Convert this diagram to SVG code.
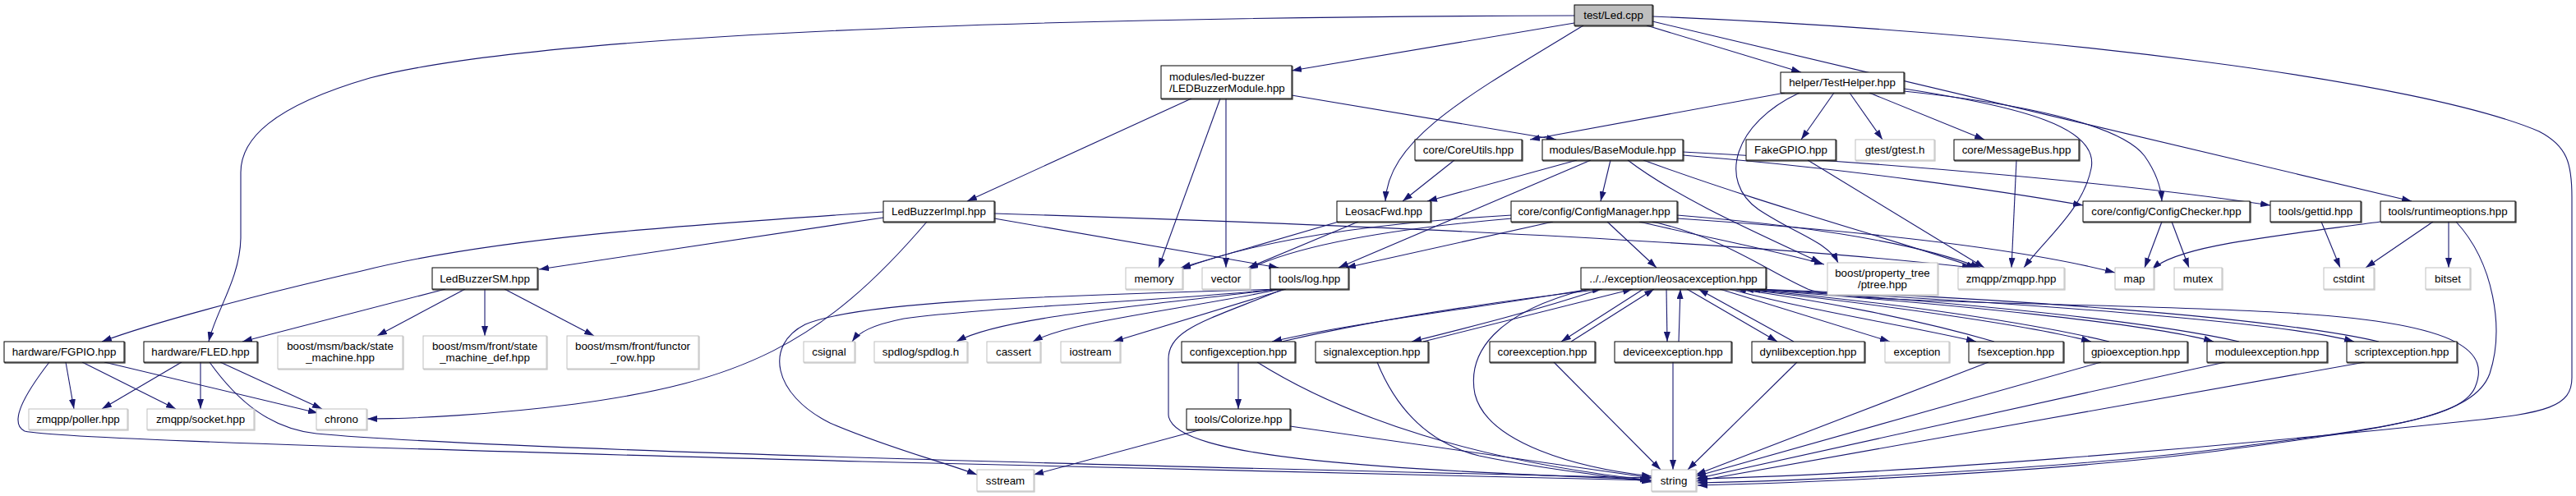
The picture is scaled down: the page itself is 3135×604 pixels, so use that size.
<svg xmlns="http://www.w3.org/2000/svg" width="3135" height="604" viewBox="0 0 3135 604">
<defs>
<style>
.n{fill:#fff;stroke:#000;stroke-width:1}
.g{fill:#fff;stroke:#bfbfbf;stroke-width:1}
.r{fill:#bfbfbf;stroke:#000;stroke-width:1}
.s{fill:none;stroke:#333;stroke-width:1.2}
.sg{fill:none;stroke:#c4c4c4;stroke-width:1.2}
text{font-family:"Liberation Sans",Arial,sans-serif;font-size:13.33px;fill:#000;text-anchor:middle}
text.l{text-anchor:start}
.e path{fill:none;stroke:#191970;stroke-width:1.1;marker-end:url(#a)}
</style>
<marker id="a" markerWidth="12" markerHeight="8" refX="12" refY="4" orient="auto" markerUnits="userSpaceOnUse"><path d="M0,0L12,4L0,8z" fill="#191970"/></marker>
</defs>
<rect width="3135" height="604" fill="#fff"/>
<g id="edges" class="e">
<path d="M1916,19 C1500,20 700,30 450,95 C330,130 293,170 293,210 L293,290 C292,340 262,380 254,416"/>
<path d="M1916,28 L1572,86"/>
<path d="M1927,31 C1780,120 1690,170 1686,245"/>
<path d="M2004,31 L2192,88"/>
<path d="M2011,26 L2935,245"/>
<path d="M2011,20 C2500,40 2950,100 3090,160 C3125,178 3130,200 3130,240 L3130,460 C3130,495 3100,503 3000,513 C2700,545 2300,578 2066,583"/>
<path d="M1450,120 L1177,245"/>
<path d="M1485,120 L1410,326"/>
<path d="M1492,120 L1492,326"/>
<path d="M1572,116 L1894,170"/>
<path d="M2172,113 L1862,170"/>
<path d="M2190,113 C2110,150 2090,220 2140,255 C2185,285 2225,295 2237,320"/>
<path d="M2232,113 L2192,170"/>
<path d="M2251,113 L2291,170"/>
<path d="M2275,113 L2415,170"/>
<path d="M2317,108 C2460,130 2555,155 2545,205 C2535,255 2490,290 2463,326"/>
<path d="M2317,111 C2450,125 2580,150 2610,190 C2624,210 2630,228 2631,245"/>
<path d="M1770,195 L1707,245"/>
<path d="M1919,195 L1737,245"/>
<path d="M1936,195 L1629,326"/>
<path d="M1960,195 L1948,245"/>
<path d="M1981,195 C2040,240 2130,280 2216,320"/>
<path d="M2000,195 C2150,250 2300,290 2405,326"/>
<path d="M2048,189 C2250,205 2450,235 2535,250"/>
<path d="M2048,185 C2300,198 2600,225 2763,250"/>
<path d="M1075,265 L656,328"/>
<path d="M1075,258 C820,275 600,290 440,330 C300,362 180,395 124,416"/>
<path d="M1128,270 C1000,420 900,465 700,492 C600,505 500,510 447,510"/>
<path d="M1210,266 L1556,326"/>
<path d="M1210,260 C1600,272 2100,292 2400,326"/>
<path d="M1629,270 L1437,326"/>
<path d="M1653,270 L1519,326"/>
<path d="M1840,262 C1700,270 1540,288 1437,328"/>
<path d="M1840,266 C1700,278 1580,298 1519,328"/>
<path d="M1890,270 L1638,326"/>
<path d="M1956,270 L2016,326"/>
<path d="M1995,270 C2080,290 2160,305 2220,322"/>
<path d="M2041,262 C2200,275 2330,295 2410,326"/>
<path d="M2041,266 C2250,280 2450,300 2574,332"/>
<path d="M2011,270 C2100,290 2150,330 2200,352 C2250,372 2600,368 2800,382 C3000,395 3030,430 3012,472 C2995,510 2900,522 2700,547 C2500,572 2200,585 2066,588"/>
<path d="M2200,195 L2415,326"/>
<path d="M2454,195 L2448,326"/>
<path d="M2631,270 L2610,326"/>
<path d="M2643,270 L2664,326"/>
<path d="M2825,270 L2848,326"/>
<path d="M2897,270 C2750,290 2650,300 2619,328"/>
<path d="M2961,270 L2879,326"/>
<path d="M2980,270 L2980,326"/>
<path d="M2989,270 C3035,320 3048,400 3030,455 C3010,510 2900,522 2700,549 C2500,575 2200,588 2066,591"/>
<path d="M542,352 L295,416"/>
<path d="M566,352 L459,409"/>
<path d="M590,352 L590,409"/>
<path d="M614,352 L723,409"/>
<path d="M60,441 C30,480 10,515 30,525 C70,535 600,550 1050,562 C1500,572 1800,578 2010,585"/>
<path d="M80,441 L90,498"/>
<path d="M100,441 L214,498"/>
<path d="M127,441 L387,503"/>
<path d="M221,441 L124,498"/>
<path d="M244,441 L244,498"/>
<path d="M268,441 L392,498"/>
<path d="M255,441 C290,490 330,522 385,528 C600,548 1400,568 2010,582"/>
<path d="M1557,352 C1400,368 1200,374 1100,388 C1060,396 1045,405 1037,416"/>
<path d="M1557,352 C1400,372 1220,385 1164,416"/>
<path d="M1560,352 C1420,380 1300,392 1257,416"/>
<path d="M1565,352 L1355,416"/>
<path d="M1556,352 C1300,360 1050,365 980,395 C930,420 940,480 1010,515 C1080,545 1140,560 1189,578"/>
<path d="M1562,352 C1470,390 1420,400 1422,440 L1422,505 C1425,560 1700,572 2008,584"/>
<path d="M1935,352 C1800,375 1650,392 1548,416"/>
<path d="M1560,416 C1680,388 1830,366 1950,352"/>
<path d="M1948,352 C1870,378 1790,398 1718,416"/>
<path d="M1732,416 C1830,392 1920,368 1987,352"/>
<path d="M2000,352 L1900,416"/>
<path d="M1912,416 L2013,352"/>
<path d="M2028,352 L2029,416"/>
<path d="M2043,416 L2045,352"/>
<path d="M2053,352 L2163,416"/>
<path d="M2183,416 L2067,352"/>
<path d="M2093,352 L2300,416"/>
<path d="M2105,352 C2200,378 2330,398 2405,416"/>
<path d="M2427,416 C2330,388 2210,365 2113,352"/>
<path d="M2118,352 C2300,372 2480,398 2545,416"/>
<path d="M2567,416 C2450,388 2260,364 2122,352"/>
<path d="M2125,352 C2380,370 2620,395 2694,416"/>
<path d="M2725,416 C2600,388 2340,364 2130,352"/>
<path d="M2133,352 C2450,368 2780,392 2865,416"/>
<path d="M2895,416 C2760,385 2420,362 2138,352"/>
<path d="M1932,352 C1820,380 1785,430 1795,480 C1810,540 1920,570 2010,580"/>
<path d="M1530,441 C1640,510 1800,562 2010,585"/>
<path d="M1676,441 C1700,500 1740,540 1800,555 C1880,572 1960,580 2010,587"/>
<path d="M1891,441 L2021,572"/>
<path d="M2036,441 L2036,572"/>
<path d="M2187,441 L2054,572"/>
<path d="M2420,441 L2064,578"/>
<path d="M2557,441 L2064,580"/>
<path d="M2708,441 L2064,583"/>
<path d="M2878,441 L2064,586"/>
<path d="M1507,441 L1507,498"/>
<path d="M1462,523 L1258,578"/>
<path d="M1570,519 L2010,582"/>
</g>
<g id="node-test-led"><rect class="s" x="1917" y="7" width="95" height="25"/><rect class="r" x="1916" y="6" width="95" height="25"/><text x="1963.5" y="23">test/Led.cpp</text></g>
<g id="node-ledbuzzermodule"><rect class="s" x="1414" y="81" width="159" height="40"/><rect class="n" x="1413" y="80" width="159" height="40"/><text class="l" x="1423" y="97.5">modules/led-buzzer</text><text class="l" x="1423" y="111.5">/LEDBuzzerModule.hpp</text></g>
<g id="node-testhelper"><rect class="s" x="2168" y="89" width="150" height="25"/><rect class="n" x="2167" y="88" width="150" height="25"/><text x="2242" y="105">helper/TestHelper.hpp</text></g>
<g id="node-coreutils"><rect class="s" x="1723" y="171" width="130" height="25"/><rect class="n" x="1722" y="170" width="130" height="25"/><text x="1787" y="187">core/CoreUtils.hpp</text></g>
<g id="node-basemodule"><rect class="s" x="1878" y="171" width="171" height="25"/><rect class="n" x="1877" y="170" width="171" height="25"/><text x="1962.5" y="187">modules/BaseModule.hpp</text></g>
<g id="node-fakegpio"><rect class="s" x="2126" y="171" width="109" height="25"/><rect class="n" x="2125" y="170" width="109" height="25"/><text x="2179.5" y="187">FakeGPIO.hpp</text></g>
<g id="node-gtest"><rect class="sg" x="2259" y="171" width="96" height="25"/><rect class="g" x="2258" y="170" width="96" height="25"/><text x="2306" y="187">gtest/gtest.h</text></g>
<g id="node-messagebus"><rect class="s" x="2379" y="171" width="152" height="25"/><rect class="n" x="2378" y="170" width="152" height="25"/><text x="2454" y="187">core/MessageBus.hpp</text></g>
<g id="node-ledbuzzerimpl"><rect class="s" x="1076" y="246" width="135" height="25"/><rect class="n" x="1075" y="245" width="135" height="25"/><text x="1142.5" y="262">LedBuzzerImpl.hpp</text></g>
<g id="node-leosacfwd"><rect class="s" x="1628" y="246" width="114" height="25"/><rect class="n" x="1627" y="245" width="114" height="25"/><text x="1684" y="262">LeosacFwd.hpp</text></g>
<g id="node-configmanager"><rect class="s" x="1840" y="246" width="202" height="25"/><rect class="n" x="1839" y="245" width="202" height="25"/><text x="1940" y="262">core/config/ConfigManager.hpp</text></g>
<g id="node-configchecker"><rect class="s" x="2536" y="246" width="203" height="25"/><rect class="n" x="2535" y="245" width="203" height="25"/><text x="2636.5" y="262">core/config/ConfigChecker.hpp</text></g>
<g id="node-gettid"><rect class="s" x="2764" y="246" width="110" height="25"/><rect class="n" x="2763" y="245" width="110" height="25"/><text x="2818" y="262">tools/gettid.hpp</text></g>
<g id="node-runtimeoptions"><rect class="s" x="2898" y="246" width="164" height="25"/><rect class="n" x="2897" y="245" width="164" height="25"/><text x="2979" y="262">tools/runtimeoptions.hpp</text></g>
<g id="node-ledbuzzersm"><rect class="s" x="527" y="327" width="128" height="26"/><rect class="n" x="526" y="326" width="128" height="26"/><text x="590" y="343.5">LedBuzzerSM.hpp</text></g>
<g id="node-memory"><rect class="sg" x="1371" y="327" width="69" height="26"/><rect class="g" x="1370" y="326" width="69" height="26"/><text x="1404.5" y="343.5">memory</text></g>
<g id="node-vector"><rect class="sg" x="1464" y="327" width="58" height="26"/><rect class="g" x="1463" y="326" width="58" height="26"/><text x="1492" y="343.5">vector</text></g>
<g id="node-log"><rect class="s" x="1547" y="327" width="95" height="26"/><rect class="n" x="1546" y="326" width="95" height="26"/><text x="1593.5" y="343.5">tools/log.hpp</text></g>
<g id="node-leosacexception"><rect class="s" x="1925" y="327" width="225" height="26"/><rect class="n" x="1924" y="326" width="225" height="26"/><text x="2036.5" y="343.5">../../exception/leosacexception.hpp</text></g>
<g id="node-ptree"><rect class="sg" x="2225" y="321" width="134" height="39"/><rect class="g" x="2224" y="320" width="134" height="39"/><text x="2291" y="337">boost/property_tree</text><text x="2291" y="351">/ptree.hpp</text></g>
<g id="node-zmqpp"><rect class="sg" x="2384" y="327" width="129" height="26"/><rect class="g" x="2383" y="326" width="129" height="26"/><text x="2447.5" y="343.5">zmqpp/zmqpp.hpp</text></g>
<g id="node-map"><rect class="sg" x="2575" y="327" width="47" height="26"/><rect class="g" x="2574" y="326" width="47" height="26"/><text x="2597.5" y="343.5">map</text></g>
<g id="node-mutex"><rect class="sg" x="2647" y="327" width="58" height="26"/><rect class="g" x="2646" y="326" width="58" height="26"/><text x="2675" y="343.5">mutex</text></g>
<g id="node-cstdint"><rect class="sg" x="2829" y="327" width="61" height="26"/><rect class="g" x="2828" y="326" width="61" height="26"/><text x="2858.5" y="343.5">cstdint</text></g>
<g id="node-bitset"><rect class="sg" x="2953" y="327" width="54" height="26"/><rect class="g" x="2952" y="326" width="54" height="26"/><text x="2979" y="343.5">bitset</text></g>
<g id="node-fgpio"><rect class="s" x="6" y="417" width="146" height="25"/><rect class="n" x="5" y="416" width="146" height="25"/><text x="78" y="433">hardware/FGPIO.hpp</text></g>
<g id="node-fled"><rect class="s" x="176" y="417" width="138" height="25"/><rect class="n" x="175" y="416" width="138" height="25"/><text x="244" y="433">hardware/FLED.hpp</text></g>
<g id="node-msm-back"><rect class="sg" x="339" y="410" width="152" height="40"/><rect class="g" x="338" y="409" width="152" height="40"/><text x="414" y="426">boost/msm/back/state</text><text x="414" y="440">_machine.hpp</text></g>
<g id="node-msm-front-def"><rect class="sg" x="516" y="410" width="150" height="40"/><rect class="g" x="515" y="409" width="150" height="40"/><text x="590" y="426">boost/msm/front/state</text><text x="590" y="440">_machine_def.hpp</text></g>
<g id="node-msm-functor"><rect class="sg" x="691" y="410" width="160" height="40"/><rect class="g" x="690" y="409" width="160" height="40"/><text x="770" y="426">boost/msm/front/functor</text><text x="770" y="440">_row.hpp</text></g>
<g id="node-csignal"><rect class="sg" x="979" y="417" width="62" height="25"/><rect class="g" x="978" y="416" width="62" height="25"/><text x="1009" y="433">csignal</text></g>
<g id="node-spdlog"><rect class="sg" x="1065" y="417" width="113" height="25"/><rect class="g" x="1064" y="416" width="113" height="25"/><text x="1120.5" y="433">spdlog/spdlog.h</text></g>
<g id="node-cassert"><rect class="sg" x="1202" y="417" width="65" height="25"/><rect class="g" x="1201" y="416" width="65" height="25"/><text x="1233.5" y="433">cassert</text></g>
<g id="node-iostream"><rect class="sg" x="1292" y="417" width="72" height="25"/><rect class="g" x="1291" y="416" width="72" height="25"/><text x="1327" y="433">iostream</text></g>
<g id="node-configexception"><rect class="s" x="1439" y="417" width="138" height="25"/><rect class="n" x="1438" y="416" width="138" height="25"/><text x="1507" y="433">configexception.hpp</text></g>
<g id="node-signalexception"><rect class="s" x="1602" y="417" width="137" height="25"/><rect class="n" x="1601" y="416" width="137" height="25"/><text x="1669.5" y="433">signalexception.hpp</text></g>
<g id="node-coreexception"><rect class="s" x="1814" y="417" width="128" height="25"/><rect class="n" x="1813" y="416" width="128" height="25"/><text x="1877" y="433">coreexception.hpp</text></g>
<g id="node-deviceexception"><rect class="s" x="1966" y="417" width="142" height="25"/><rect class="n" x="1965" y="416" width="142" height="25"/><text x="2036" y="433">deviceexception.hpp</text></g>
<g id="node-dynlibexception"><rect class="s" x="2133" y="417" width="137" height="25"/><rect class="n" x="2132" y="416" width="137" height="25"/><text x="2200.5" y="433">dynlibexception.hpp</text></g>
<g id="node-exception"><rect class="sg" x="2295" y="417" width="78" height="25"/><rect class="g" x="2294" y="416" width="78" height="25"/><text x="2333" y="433">exception</text></g>
<g id="node-fsexception"><rect class="s" x="2397" y="417" width="115" height="25"/><rect class="n" x="2396" y="416" width="115" height="25"/><text x="2453.5" y="433">fsexception.hpp</text></g>
<g id="node-gpioexception"><rect class="s" x="2537" y="417" width="126" height="25"/><rect class="n" x="2536" y="416" width="126" height="25"/><text x="2599" y="433">gpioexception.hpp</text></g>
<g id="node-moduleexception"><rect class="s" x="2687" y="417" width="146" height="25"/><rect class="n" x="2686" y="416" width="146" height="25"/><text x="2759" y="433">moduleexception.hpp</text></g>
<g id="node-scriptexception"><rect class="s" x="2857" y="417" width="134" height="25"/><rect class="n" x="2856" y="416" width="134" height="25"/><text x="2923" y="433">scriptexception.hpp</text></g>
<g id="node-poller"><rect class="sg" x="36" y="499" width="120" height="25"/><rect class="g" x="35" y="498" width="120" height="25"/><text x="95" y="515">zmqpp/poller.hpp</text></g>
<g id="node-socket"><rect class="sg" x="180" y="499" width="130" height="25"/><rect class="g" x="179" y="498" width="130" height="25"/><text x="244" y="515">zmqpp/socket.hpp</text></g>
<g id="node-chrono"><rect class="sg" x="386" y="499" width="61" height="25"/><rect class="g" x="385" y="498" width="61" height="25"/><text x="415.5" y="515">chrono</text></g>
<g id="node-colorize"><rect class="s" x="1445" y="499" width="126" height="25"/><rect class="n" x="1444" y="498" width="126" height="25"/><text x="1507" y="515">tools/Colorize.hpp</text></g>
<g id="node-sstream"><rect class="sg" x="1190" y="573" width="69" height="26"/><rect class="g" x="1189" y="572" width="69" height="26"/><text x="1223.5" y="589.5">sstream</text></g>
<g id="node-string"><rect class="sg" x="2011" y="573" width="54" height="26"/><rect class="g" x="2010" y="572" width="54" height="26"/><text x="2037" y="589.5">string</text></g>
</svg>
